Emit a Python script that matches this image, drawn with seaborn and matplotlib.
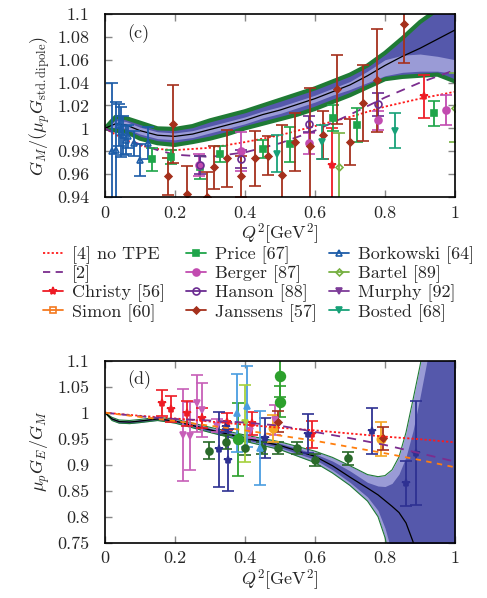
import matplotlib
matplotlib.use('Agg')
import matplotlib.pyplot as plt
from matplotlib.lines import Line2D
from matplotlib.ticker import FuncFormatter
import seaborn as sns

# ---------------- panel (c): G_M / (mu_p G_std.dipole) ----------------
q_fit_c = [0, 0.03, 0.06, 0.1, 0.15, 0.2, 0.25, 0.3, 0.35, 0.4, 0.45, 0.5, 0.55,
           0.6, 0.65, 0.7, 0.75, 0.8, 0.85, 0.9, 0.95, 1.0]
gm_fit = [1.000, 1.004, 1.003, 0.998, 0.994, 0.993, 0.995, 0.999, 1.003, 1.007, 1.012,
          1.016, 1.021, 1.026, 1.032, 1.038, 1.046, 1.055, 1.063, 1.070, 1.078, 1.086]
gm_outer_hi = [1.000, 1.010, 1.009, 1.005, 1.000, 0.9995, 1.002, 1.007, 1.011, 1.015, 1.020,
               1.025, 1.030, 1.035, 1.041, 1.047, 1.055, 1.066, 1.079, 1.093, 1.104, 1.115]
gm_outer_lo = [1.000, 0.998, 0.997, 0.991, 0.987, 0.9855, 0.988, 0.991, 0.995, 1.000, 1.004,
               1.008, 1.012, 1.017, 1.023, 1.029, 1.036, 1.043, 1.045, 1.046, 1.047, 1.041]
gm_inner_hi = [1.000, 1.007, 1.006, 1.001, 0.997, 0.996, 0.998, 1.002, 1.006, 1.010, 1.015,
               1.019, 1.024, 1.029, 1.035, 1.041, 1.050, 1.060, 1.064, 1.065, 1.063, 1.060]
gm_inner_lo = [1.000, 1.001, 1.000, 0.995, 0.991, 0.990, 0.992, 0.996, 1.000, 1.004, 1.009,
               1.013, 1.018, 1.023, 1.029, 1.034, 1.040, 1.046, 1.049, 1.050, 1.050, 1.048]

q_ref = [0, 0.05, 0.1, 0.15, 0.2, 0.3, 0.4, 0.5, 0.6, 0.7, 0.8, 0.9, 1.0]
gm_no_tpe = [1.0, 0.991, 0.985, 0.982, 0.981, 0.983, 0.988, 0.994, 1.002, 1.010, 1.019, 1.026, 1.032]
gm_ref2 = [1.0, 0.992, 0.986, 0.981, 0.977, 0.975, 0.979, 0.987, 0.998, 1.012, 1.027, 1.040, 1.051]

christy_q = [0.648, 0.91]
christy_v = [0.968, 1.028]
christy_e = [0.032, 0.019]

simon_q, simon_v, simon_e = [], [], []

price_q = [0.133, 0.19, 0.271, 0.329, 0.45, 0.529, 0.65, 0.719, 0.94]
price_v = [0.973, 0.975, 0.966, 0.978, 0.982, 0.986, 1.009, 1.003, 1.013]
price_e = [0.010, 0.006, 0.010, 0.007, 0.008, 0.015, 0.011, 0.015, 0.011]

berger_q = [0.27, 0.39, 0.583, 0.779, 0.973]
berger_v = [0.968, 0.980, 0.987, 1.007, 1.016]
berger_e = [0.010, 0.017, 0.009, 0.008, 0.013]

hanson_q = [0.272, 0.388, 0.583, 0.779]
hanson_v = [0.968, 0.973, 1.004, 1.021]
hanson_e = [0.008, 0.008, 0.007, 0.010]

janssens_q = [0.179, 0.193, 0.233, 0.292, 0.311, 0.35, 0.389, 0.429, 0.465, 0.505,
              0.543, 0.587, 0.622, 0.662, 0.70, 0.738, 0.778, 0.855]
janssens_v = [0.958, 1.004, 0.943, 0.940, 0.966, 0.974, 0.958, 0.974, 0.976, 0.959,
              0.988, 0.985, 0.994, 1.034, 0.988, 1.022, 1.042, 1.091]
janssens_e = [0.016, 0.034, 0.024, 0.022, 0.019, 0.025, 0.018, 0.024, 0.017, 0.044,
              0.025, 0.050, 0.021, 0.030, 0.020, 0.033, 0.045, 0.034]

borkowski_q = [0.021, 0.031, 0.040, 0.045, 0.052, 0.059, 0.067, 0.084, 0.100, 0.124]
borkowski_v = [0.980, 0.981, 1.003, 0.997, 0.994, 0.990, 0.993, 0.987, 0.972, 0.987]
borkowski_e = [0.060, 0.042, 0.018, 0.022, 0.017, 0.012, 0.010, 0.011, 0.014, 0.014]

bartel_q = [0.669, 1.0]
bartel_v = [0.966, 1.018]
bartel_e = [0.030, 0.030]

murphy_q, murphy_v, murphy_e = [], [], []

bosted_q = [0.49, 0.619, 0.829]
bosted_v = [0.978, 0.988, 0.998]
bosted_e = [0.016, 0.015, 0.015]

# ---------------- panel (d): mu_p G_E / G_M ----------------
q_fit_d = [0, 0.02, 0.04, 0.07, 0.1, 0.15, 0.2, 0.3, 0.4, 0.5, 0.6, 0.65, 0.7, 0.75,
           0.78, 0.8, 0.82, 0.84, 0.86, 0.88, 0.9, 0.92, 0.95, 1.0]
ge_fit = [1.0, 0.988, 0.983, 0.982, 0.984, 0.988, 0.984, 0.967, 0.951, 0.937, 0.916, 0.898,
          0.876, 0.855, 0.842, 0.831, 0.820, 0.808, 0.788, 0.752, 0.70, 0.65, 0.60, 0.55]
ge_outer_hi = [1.0, 0.991, 0.986, 0.985, 0.987, 0.991, 0.988, 0.972, 0.957, 0.944, 0.926, 0.914,
               0.898, 0.881, 0.877, 0.879, 0.890, 0.915, 0.962, 1.025, 1.09, 1.16, 1.25, 1.40]
ge_outer_lo = [1.0, 0.985, 0.980, 0.979, 0.981, 0.985, 0.980, 0.962, 0.945, 0.929, 0.904, 0.884,
               0.860, 0.830, 0.800, 0.760, 0.700, 0.650, 0.600, 0.550, 0.500, 0.450, 0.400, 0.350]
ge_inner_hi = [1.0, 0.990, 0.985, 0.984, 0.986, 0.990, 0.986, 0.970, 0.954, 0.941, 0.921, 0.907,
               0.888, 0.866, 0.859, 0.858, 0.864, 0.882, 0.915, 0.965, 1.03, 1.10, 1.20, 1.35]
ge_inner_lo = [1.0, 0.986, 0.981, 0.980, 0.982, 0.986, 0.982, 0.964, 0.948, 0.933, 0.910, 0.890,
               0.866, 0.838, 0.812, 0.778, 0.730, 0.680, 0.630, 0.580, 0.530, 0.480, 0.430, 0.380]

q_ref_d = [0, 0.1, 0.2, 0.3, 0.4, 0.5, 0.6, 0.7, 0.8, 0.9, 1.0]
ge_no_tpe = [1.0, 0.994, 0.989, 0.983, 0.977, 0.971, 0.966, 0.960, 0.954, 0.949, 0.943]
ge_ref2 = [1.0, 0.993, 0.988, 0.985, 0.981, 0.975, 0.963, 0.951, 0.938, 0.922, 0.906]
ge_orange = [1.0, 0.992, 0.984, 0.975, 0.966, 0.956, 0.946, 0.934, 0.922, 0.909, 0.895]

red_q = [0.162, 0.19, 0.233, 0.276, 0.35, 0.419, 0.59]
red_v = [1.019, 1.0065, 0.999, 0.990, 0.983, 0.980, 0.959]
red_e = [0.025, 0.025, 0.024, 0.020, 0.016, 0.022, 0.026]

pink_q = [0.224, 0.243, 0.262, 0.276, 0.32, 0.414, 0.486]
pink_v = [0.957, 0.955, 1.018, 1.005, 0.975, 0.964, 0.986]
pink_e = [0.088, 0.065, 0.055, 0.052, 0.012, 0.012, 0.029]

navy_q = [0.326, 0.347, 0.352, 0.457, 0.581, 0.764, 0.859, 0.889]
navy_v = [0.930, 0.973, 0.909, 0.951, 0.960, 0.965, 0.864, 0.922]
navy_e = [0.072, 0.010, 0.060, 0.038, 0.038, 0.045, 0.044, 0.100]

dkgreen_q = [0.298, 0.347, 0.40, 0.448, 0.495, 0.548, 0.60, 0.695]
dkgreen_v = [0.927, 0.944, 0.932, 0.932, 0.932, 0.932, 0.909, 0.912]
dkgreen_e = [0.016, 0.013, 0.013, 0.012, 0.012, 0.012, 0.012, 0.012]

green_q = [0.381, 0.50, 0.50]
green_v = [0.949, 1.071, 1.021]
green_e = [0.070, 0.040, 0.030]

skyblue_q = [0.376, 0.405, 0.443]
skyblue_v = [1.000, 1.012, 0.932]
skyblue_e = [0.075, 0.077, 0.072]

lime_q = [0.40]
lime_v = [0.980]
lime_e = [0.074]

orange_q = [0.481, 0.789]
orange_v = [0.970, 0.949]
orange_e = [0.026, 0.033]

brown_q = [0.495, 0.795]
brown_v = [0.983, 0.951]
brown_e = [0.020, 0.022]

# ---------------- styling ----------------
sns.set_theme(style='ticks')
plt.rcParams['font.family'] = ['cmr10', 'DejaVu Serif']
plt.rcParams['mathtext.fontset'] = 'cm'
plt.rcParams['axes.formatter.use_mathtext'] = True
plt.rcParams['axes.unicode_minus'] = False

BLUE = '#5558ab'
LAV = '#9a9bd6'
EDGE = '#1f7a35'
FS = 13

fig = plt.figure(figsize=(4.87, 5.98), dpi=100)
ax_c = fig.add_axes([0.2156, 0.6706, 0.7187, 0.306])
ax_d = fig.add_axes([0.2156, 0.0925, 0.7187, 0.3043])


def data_series(ax, q, v, e, color, marker, ms=5, mfc=None, cap=4):
    if len(q) == 0:
        return
    ax.errorbar(q, v, yerr=e, fmt=marker, color=color, ms=ms, capsize=cap,
                elinewidth=1.3, capthick=1.3, mfc=color if mfc is None else mfc,
                mew=1.2, zorder=4)


styles = {
    'Christy [56]': ('#ee1c25', '*', 6, None),
    'Simon [60]': ('#f47a20', 's', 5, 'none'),
    'Price [67]': ('#1fa54a', 's', 5, None),
    'Berger [87]': ('#c24bb0', 'o', 5, None),
    'Hanson [88]': ('#6b2c91', 'o', 5, 'none'),
    'Janssens [57]': ('#a5301c', 'D', 3.5, None),
    'Borkowski [64]': ('#1c5ca8', '^', 4, 'none'),
    'Bartel [89]': ('#76b041', 'D', 3.5, 'none'),
    'Murphy [92]': ('#7d3c98', 'v', 5, None),
    'Bosted [68]': ('#18a178', 'v', 5, None),
}
datasets_c = {
    'Christy [56]': (christy_q, christy_v, christy_e),
    'Simon [60]': (simon_q, simon_v, simon_e),
    'Price [67]': (price_q, price_v, price_e),
    'Berger [87]': (berger_q, berger_v, berger_e),
    'Hanson [88]': (hanson_q, hanson_v, hanson_e),
    'Janssens [57]': (janssens_q, janssens_v, janssens_e),
    'Borkowski [64]': (borkowski_q, borkowski_v, borkowski_e),
    'Bartel [89]': (bartel_q, bartel_v, bartel_e),
    'Murphy [92]': (murphy_q, murphy_v, murphy_e),
    'Bosted [68]': (bosted_q, bosted_v, bosted_e),
}

# panel (c)
ax = ax_c
ax.fill_between(q_fit_c, gm_outer_lo, gm_outer_hi, color=BLUE, lw=0, zorder=1)
ax.fill_between(q_fit_c, gm_inner_lo, gm_inner_hi, color=LAV, lw=0, zorder=1)
sns.lineplot(x=q_fit_c, y=gm_outer_hi, ax=ax, color=EDGE, lw=3, zorder=2)
sns.lineplot(x=q_fit_c, y=gm_outer_lo, ax=ax, color=EDGE, lw=3, zorder=2)
sns.lineplot(x=q_fit_c, y=gm_fit, ax=ax, color='black', lw=0.9, zorder=3)
sns.lineplot(x=q_ref, y=gm_no_tpe, ax=ax, color='#ff1a1a', lw=1.3, linestyle=(0, (1.2, 1.2)), zorder=3)
sns.lineplot(x=q_ref, y=gm_ref2, ax=ax, color='#7b2d8e', lw=1.3, linestyle=(0, (5, 4)), zorder=3)
for name, (q, v, e) in datasets_c.items():
    c, m, ms, mfc = styles[name]
    data_series(ax, q, v, e, c, m, ms, mfc)
ax.set_ylim(0.94, 1.1)
ax.set_yticks([0.94, 0.96, 0.98, 1.0, 1.02, 1.04, 1.06, 1.08, 1.1])
ax.set_ylabel(r'$G_M/(\mu_p G_{\rm std.dipole})$', fontsize=FS, labelpad=4)
ax.text(0.065, 1.083, '(c)', fontsize=FS, va='center')

# panel (d)
ax = ax_d
ax.fill_between(q_fit_d, ge_outer_lo, ge_outer_hi, color=LAV, lw=0, zorder=1)
ax.fill_between(q_fit_d, ge_inner_lo, ge_inner_hi, color=BLUE, lw=0, zorder=1)
sns.lineplot(x=q_fit_d, y=ge_outer_hi, ax=ax, color=EDGE, lw=0.8, zorder=2)
sns.lineplot(x=q_fit_d, y=ge_outer_lo, ax=ax, color=EDGE, lw=0.8, zorder=2)
sns.lineplot(x=q_fit_d, y=ge_fit, ax=ax, color='black', lw=0.9, zorder=3)
sns.lineplot(x=q_ref_d, y=ge_no_tpe, ax=ax, color='#ff1a1a', lw=1.3, linestyle=(0, (1.2, 1.2)), zorder=5)
sns.lineplot(x=q_ref_d, y=ge_ref2, ax=ax, color='#7b2d8e', lw=1.3, linestyle=(0, (5, 4)), zorder=5)
sns.lineplot(x=q_ref_d, y=ge_orange, ax=ax, color='#ff7f0e', lw=1.3, linestyle=(0, (3, 3)), zorder=5)
data_series(ax, pink_q, pink_v, pink_e, '#c75fb8', 'v', 5)
data_series(ax, red_q, red_v, red_e, '#ee1c25', '*', 6)
data_series(ax, navy_q, navy_v, navy_e, '#2e3192', '*', 6)
data_series(ax, dkgreen_q, dkgreen_v, dkgreen_e, '#2a6a2a', 'o', 5)
data_series(ax, green_q, green_v, green_e, '#2ca02c', 'o', 7)
data_series(ax, skyblue_q, skyblue_v, skyblue_e, '#4a9de0', '^', 5)
data_series(ax, lime_q, lime_v, lime_e, '#a6d13c', 'v', 5)
data_series(ax, orange_q, orange_v, orange_e, '#f5a623', 'o', 6)
data_series(ax, brown_q, brown_v, brown_e, '#a5301c', 'D', 3.5)
ax.set_ylim(0.75, 1.1)
ax.set_yticks([0.75, 0.8, 0.85, 0.9, 0.95, 1.0, 1.05, 1.1])
ax.set_ylabel(r'$\mu_p G_E/G_M$', fontsize=FS, labelpad=4)
ax.text(0.065, 1.063, '(d)', fontsize=FS, va='center')

for ax in (ax_c, ax_d):
    ax.set_xlim(0, 1)
    ax.set_xticks([0, 0.2, 0.4, 0.6, 0.8, 1.0])
    ax.xaxis.set_major_formatter(FuncFormatter(lambda x, p: '{:g}'.format(round(x, 2))))
    ax.yaxis.set_major_formatter(FuncFormatter(lambda x, p: '{:g}'.format(round(x, 2))))
    ax.tick_params(direction='in', top=True, right=True, length=5, width=1,
                   color='#888888', labelsize=FS)
    ax.tick_params(axis='x', pad=6)
    ax.tick_params(axis='y', pad=11)
    ax.set_xlabel(r'$Q^2[\mathrm{GeV}^2]$', fontsize=FS, labelpad=1)
    for s in ax.spines.values():
        s.set_linewidth(1.2)
        s.set_color('black')
        s.set_zorder(10)

# legend between the panels: three fixed columns
handles = [Line2D([], [], color='#ff1a1a', lw=1.3, linestyle=(0, (1.2, 1.2))),
           Line2D([], [], color='#7b2d8e', lw=1.3, linestyle=(0, (4, 3)))]
labels = ['[4] no TPE', '[2]']
for name in styles:
    c, m, ms, mfc = styles[name]
    handles.append(Line2D([], [], color=c, marker=m, ms=ms, lw=1.3,
                          mfc=c if mfc is None else mfc, mew=1.2))
    labels.append(name)
col_x = [0.088, 0.382, 0.676]
for i, x0 in enumerate(col_x):
    fig.legend(handles[4 * i:4 * i + 4], labels[4 * i:4 * i + 4], loc='upper left',
               bbox_to_anchor=(x0, 0.588), ncol=1, frameon=False, fontsize=FS,
               handlelength=1.1, handletextpad=0.5, labelspacing=0.08,
               borderaxespad=0, borderpad=0)

fig.savefig('out.png', dpi=100)
